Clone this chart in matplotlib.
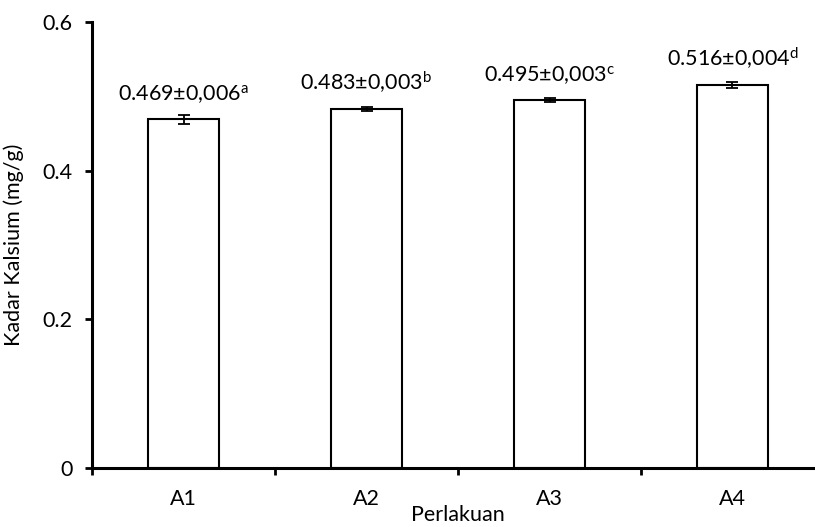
import matplotlib
matplotlib.use("Agg")
import matplotlib.pyplot as plt

plt.rcParams['font.family'] = ['Lato', 'DejaVu Sans']
plt.rcParams['mathtext.default'] = 'regular'

perlakuan = ['A1', 'A2', 'A3', 'A4']
kalsium = [0.469, 0.483, 0.495, 0.516]
sd = [0.006, 0.003, 0.003, 0.004]
notasi = ['a', 'b', 'c', 'd']
yticks = [0, 0.2, 0.4, 0.6]
ytick_labels = ['0', '0.2', '0.4', '0.6']


def label_text(v, e, n):
    return '{:.3f}±{}$^{{{}}}$'.format(v, '{:.3f}'.format(e).replace('.', ','), n)


fig = plt.figure(figsize=(8.15, 5.27), dpi=100)
ax = fig.add_axes([0.113, 0.112, 0.898, 0.846])

x = list(range(len(perlakuan)))
ax.bar(x, kalsium, width=0.385, color='white', edgecolor='black', linewidth=1.5)
ax.errorbar(x, kalsium, yerr=sd, fmt='none', ecolor='black', elinewidth=1.3,
            capsize=4.3, capthick=1.3)

for xi, v, e, n in zip(x, kalsium, sd, notasi):
    ax.annotate(label_text(v, e, n), (xi, v), xytext=(0, 13.5), textcoords='offset points',
                ha='center', va='baseline', fontsize=15.5)

ax.set_xlim(-0.5, 3.5)
ax.set_ylim(0, 0.6)
ax.set_yticks(yticks)
ax.set_yticklabels(ytick_labels)
ax.set_xticks([-0.5, 0.5, 1.5, 2.5, 3.5])
ax.set_xticklabels([])
ax.set_xticks(x, minor=True)
ax.set_xticklabels(perlakuan, minor=True)
ax.tick_params(axis='x', which='minor', length=0, pad=15, labelsize=15.5)
ax.tick_params(axis='x', which='major', direction='out', length=5, width=2)
ax.tick_params(axis='y', direction='out', length=5, width=2, labelsize=15.5, pad=9)

for s in ['top', 'right']:
    ax.spines[s].set_visible(False)
for s in ['left', 'bottom']:
    ax.spines[s].set_linewidth(2.2)

ax.set_ylabel('Kadar Kalsium (mg/g)', fontsize=15.5)
ax.yaxis.set_label_coords(-0.093, 0.5)
ax.set_xlabel('Perlakuan', fontsize=15.5)
ax.xaxis.set_label_coords(0.5, -0.083)

fig.savefig('out.png', dpi=100)
